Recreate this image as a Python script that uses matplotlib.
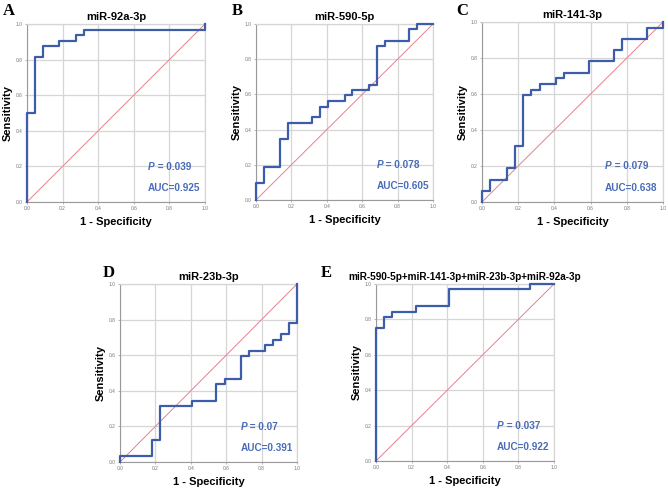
import matplotlib
matplotlib.use("Agg")
import matplotlib.pyplot as plt

plt.rcParams['font.family'] = ['Liberation Sans', 'DejaVu Sans']

# ======== ROC data (step corners) ========
titles = ['miR-92a-3p', 'miR-590-5p', 'miR-141-3p', 'miR-23b-3p',
          'miR-590-5p+miR-141-3p+miR-23b-3p+miR-92a-3p']
letters = ['A', 'B', 'C', 'D', 'E']
p_values = ['0.039', '0.078', '0.079', '0.07', '0.037']
auc_values = ['0.925', '0.605', '0.638', '0.391', '0.922']

fpr_a = [0, 0, 0.045, 0.091, 0.182, 0.273, 0.318, 1.0]
tpr_a = [0, 0.5, 0.8125, 0.875, 0.906, 0.938, 0.969, 1.0]

fpr_b = [0, 0, 0.045, 0.136, 0.182, 0.318, 0.364, 0.409, 0.5, 0.545,
         0.636, 0.682, 0.727, 0.864, 0.909, 1.0]
tpr_b = [0, 0.094, 0.188, 0.344, 0.438, 0.469, 0.531, 0.563, 0.594, 0.625,
         0.656, 0.875, 0.906, 0.969, 1.0, 1.0]

fpr_c = [0, 0, 0.045, 0.136, 0.182, 0.227, 0.273, 0.318, 0.409, 0.455,
         0.591, 0.727, 0.773, 0.909, 1.0]
tpr_c = [0, 0.063, 0.125, 0.188, 0.313, 0.594, 0.625, 0.656, 0.688, 0.719,
         0.781, 0.844, 0.906, 0.969, 1.0]

fpr_d = [0, 0, 0.182, 0.227, 0.409, 0.545, 0.591, 0.682, 0.727, 0.818,
         0.864, 0.909, 0.955, 1.0]
tpr_d = [0, 0.031, 0.125, 0.313, 0.344, 0.438, 0.469, 0.594, 0.625, 0.656,
         0.688, 0.719, 0.781, 1.0]

fpr_e = [0, 0, 0.045, 0.091, 0.227, 0.409, 0.864, 1.0]
tpr_e = [0, 0.75, 0.8125, 0.844, 0.875, 0.969, 1.0, 1.0]

curves = [(fpr_a, tpr_a), (fpr_b, tpr_b), (fpr_c, tpr_c), (fpr_d, tpr_d), (fpr_e, tpr_e)]
ticks = [0.0, 0.2, 0.4, 0.6, 0.8, 1.0]

# axes boxes in pixels: left, top, right, bottom
W, H = 668, 490
boxes = [(27, 24, 205, 202), (256, 24, 433, 200), (482, 22, 663, 202),
         (120, 284, 297, 462), (376, 284, 554, 461)]
letter_pos = [(3, 15), (232, 15), (456, 15), (103, 277), (321, 277)]
title_sizes = [8, 8, 8, 8, 7.2]

BLUE = '#3d5dab'
TEXT_BLUE = '#4a6cb8'
DIAG = '#e8808e'

fig = plt.figure(figsize=(W / 100, H / 100), dpi=100)

for i in range(5):
    l, t, r, b = boxes[i]
    ax = fig.add_axes([l / W, 1 - b / H, (r - l) / W, (b - t) / H])
    ax.set_xlim(0, 1)
    ax.set_ylim(0, 1)
    ax.set_xticks(ticks)
    ax.set_yticks(ticks)
    ax.set_xticklabels([f'{v:.1f}' for v in ticks])
    ax.set_yticklabels([f'{v:.1f}' for v in ticks])
    ax.tick_params(labelsize=3.5, labelcolor='#777777', length=1.5,
                   width=0.5, color='#999999', pad=1.5)
    ax.grid(True, color='#d6d6d6', linewidth=0.9)
    ax.set_axisbelow(True)
    for s in ['left', 'bottom']:
        ax.spines[s].set_color('#9a9a9a')
        ax.spines[s].set_linewidth(0.8)
    for s in ['top', 'right']:
        ax.spines[s].set_color('#d6d6d6')
        ax.spines[s].set_linewidth(0.9)

    ax.plot([0, 1], [0, 1], color=DIAG, linewidth=0.7, zorder=3)
    fpr, tpr = curves[i]
    ax.plot(fpr, tpr, drawstyle='steps-post', color=BLUE, linewidth=1.6,
            zorder=4, clip_on=False)

    ax.text(0.5, 1 + 7 / (b - t), titles[i], transform=ax.transAxes,
            ha='center', va='center', fontsize=title_sizes[i], fontweight='bold')
    ax.text(0.5, -20 / (b - t), '1 - Specificity', transform=ax.transAxes,
            ha='center', va='center', fontsize=8, fontweight='bold')
    ax.text(-19 / (r - l), 0.5, 'Sensitivity', transform=ax.transAxes,
            ha='center', va='center', rotation=90, fontsize=8, fontweight='bold')

    # italic P followed by the value
    p_txt = ax.text(0.68, 0.17, 'P', transform=ax.transAxes, ha='left',
                    va='bottom', fontsize=7.2, fontweight='bold',
                    fontstyle='italic', color=TEXT_BLUE)
    ax.annotate(f' = {p_values[i]}', xy=(1, 0), xycoords=p_txt, ha='left',
                va='bottom', fontsize=7.2, fontweight='bold', color=TEXT_BLUE)
    ax.text(0.68, 0.06, f'AUC={auc_values[i]}', transform=ax.transAxes,
            ha='left', va='baseline', fontsize=7.2, fontweight='bold', color=TEXT_BLUE)

    lx, ly = letter_pos[i]
    fig.text(lx / W, 1 - ly / H, letters[i], fontsize=12, fontweight='bold',
             family='Liberation Serif', ha='left', va='baseline')

fig.savefig('out.png', dpi=100)
